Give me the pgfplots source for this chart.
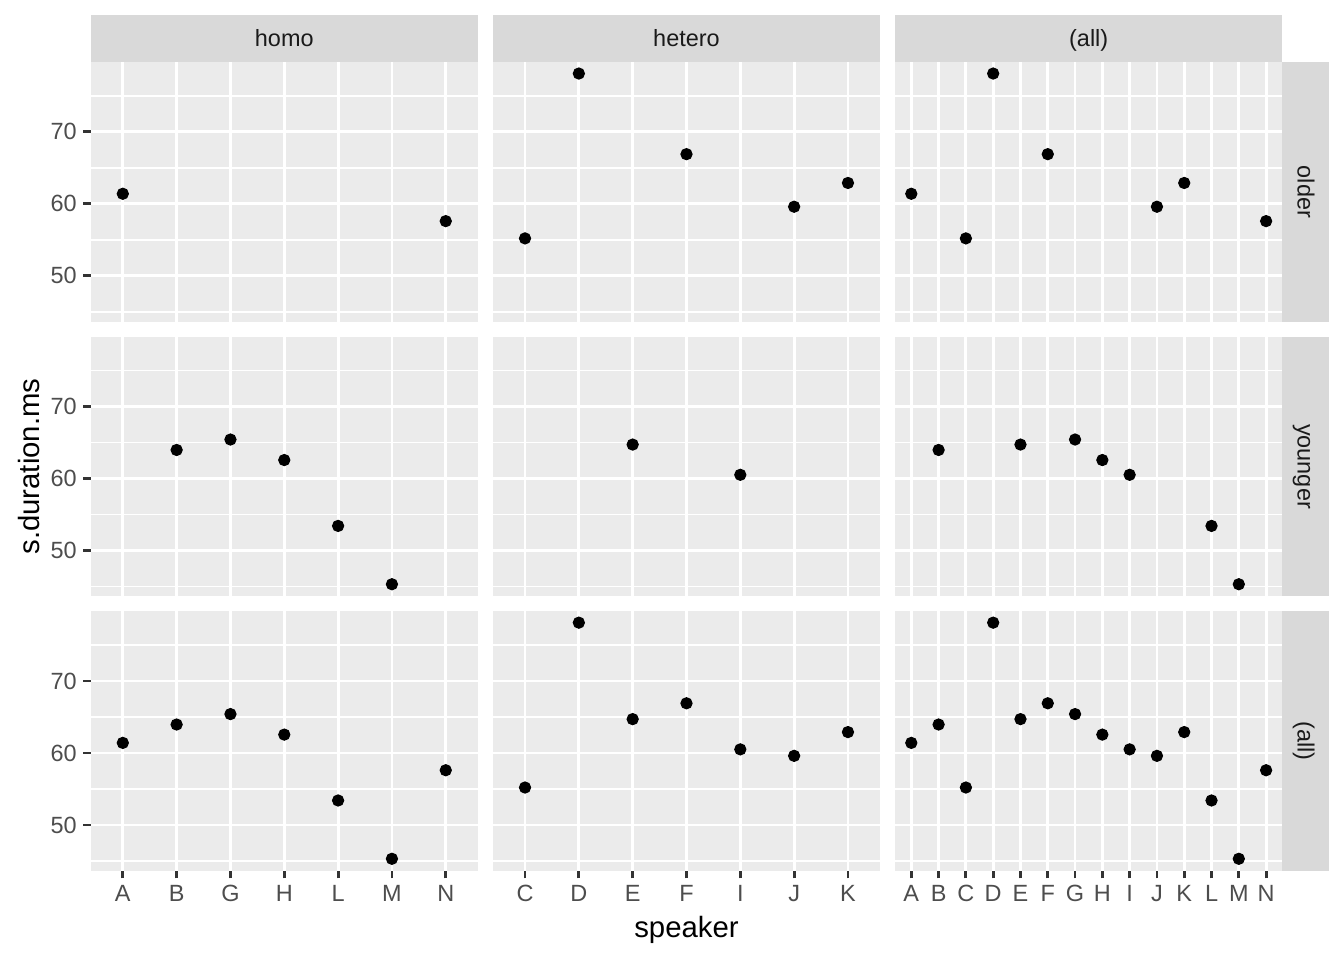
\documentclass[border=0pt]{standalone}
\usepackage{fontspec}
\setmainfont{Liberation Sans}
\usepackage{pgfplots}
\pgfplotsset{compat=1.18}
\definecolor{panelbg}{HTML}{EBEBEB}
\definecolor{stripbg}{HTML}{D9D9D9}
\definecolor{striptext}{HTML}{1A1A1A}
\definecolor{ticktext}{HTML}{4D4D4D}
\definecolor{tickline}{HTML}{333333}
\newcommand{\tsize}{\fontsize{8.8}{10}\selectfont}
\pgfplotsset{
  facet/.style={
    scale only axis, width=145.33pt, height=97.46pt, anchor=north west,
    ymin=43.6, ymax=79.7,
    ytick={50,60,70}, minor ytick={45,55,65,75},
    axis background/.style={fill=panelbg},
    axis line style={draw=none},
    grid=both,
    major grid style={white, line width=1.07pt},
    minor grid style={white, line width=0.53pt},
    tick align=outside, tickpos=left,
    major tick length=2.75pt, minor tick length=0pt,
    xtick style={tickline, line width=1.07pt},
    ytick style={tickline, line width=1.07pt},
    tick label style={font=\tsize, text=ticktext},
    xticklabel style={inner sep=0pt, text height=6.3pt, text depth=0pt, yshift=-2.2pt},
    yticklabel style={inner sep=0pt, xshift=-2.2pt},
    /pgf/number format/assume math mode=true,
    clip=false,
  },
  seven/.style={xmin=-0.6, xmax=6.6, xtick={0,...,6}},
  fourteen/.style={xmin=-0.6, xmax=13.6, xtick={0,...,13}},
  nox/.style={xticklabels={}, xtick style={draw=none}},
  noy/.style={yticklabels={}, ytick style={draw=none}},
  pts/.style={only marks, mark=*, mark size=2.1pt, black},
}
\begin{document}
\begin{tikzpicture}
\useasboundingbox (0pt,0pt) rectangle (504pt,-360pt);
% top strips
\fill[stripbg] (33.94pt,-5.65pt) rectangle (179.27pt,-23.25pt);
\fill[stripbg] (184.77pt,-5.65pt) rectangle (330.1pt,-23.25pt);
\fill[stripbg] (335.6pt,-5.65pt) rectangle (480.93pt,-23.25pt);
\node[font=\tsize, text=striptext, anchor=base, inner sep=0pt] at (106.6pt,-17.4pt) {homo};
\node[font=\tsize, text=striptext, anchor=base, inner sep=0pt] at (257.44pt,-17.4pt) {hetero};
\node[font=\tsize, text=striptext, anchor=base, inner sep=0pt] at (408.27pt,-17.4pt) {(all)};
% right strips
\fill[stripbg] (480.93pt,-23.25pt) rectangle (498.4pt,-120.71pt);
\fill[stripbg] (480.93pt,-126.21pt) rectangle (498.4pt,-223.67pt);
\fill[stripbg] (480.93pt,-229.17pt) rectangle (498.4pt,-326.63pt);
\node[font=\tsize, text=striptext, rotate=-90, anchor=base, inner sep=0pt] at (486.6pt,-71.98pt) {older};
\node[font=\tsize, text=striptext, rotate=-90, anchor=base, inner sep=0pt] at (486.6pt,-174.94pt) {younger};
\node[font=\tsize, text=striptext, rotate=-90, anchor=base, inner sep=0pt] at (486.6pt,-277.9pt) {(all)};
% row 1: older
\begin{axis}[facet, seven, nox, at={(33.94pt,-23.25pt)}]
\addplot[pts] coordinates {(0,61.4) (6,57.6)};
\end{axis}
\begin{axis}[facet, seven, nox, noy, at={(184.77pt,-23.25pt)}]
\addplot[pts] coordinates {(0,55.2) (1,78.1) (3,66.9) (5,59.6) (6,62.9)};
\end{axis}
\begin{axis}[facet, fourteen, nox, noy, at={(335.6pt,-23.25pt)}]
\addplot[pts] coordinates {(0,61.4) (2,55.2) (3,78.1) (5,66.9) (9,59.6) (10,62.9) (13,57.6)};
\end{axis}
% row 2: younger
\begin{axis}[facet, seven, nox, at={(33.94pt,-126.21pt)}]
\addplot[pts] coordinates {(1,63.95) (2,65.4) (3,62.55) (4,53.4) (5,45.3)};
\end{axis}
\begin{axis}[facet, seven, nox, noy, at={(184.77pt,-126.21pt)}]
\addplot[pts] coordinates {(2,64.7) (4,60.5)};
\end{axis}
\begin{axis}[facet, fourteen, nox, noy, at={(335.6pt,-126.21pt)}]
\addplot[pts] coordinates {(1,63.95) (4,64.7) (6,65.4) (7,62.55) (8,60.5) (11,53.4) (12,45.3)};
\end{axis}
% row 3: all
\begin{axis}[facet, seven, xticklabels={A,B,G,H,L,M,N}, at={(33.94pt,-229.17pt)}]
\addplot[pts] coordinates {(0,61.4) (1,63.95) (2,65.4) (3,62.55) (4,53.4) (5,45.3) (6,57.6)};
\end{axis}
\begin{axis}[facet, seven, noy, xticklabels={C,D,E,F,I,J,K}, at={(184.77pt,-229.17pt)}]
\addplot[pts] coordinates {(0,55.2) (1,78.1) (2,64.7) (3,66.9) (4,60.5) (5,59.6) (6,62.9)};
\end{axis}
\begin{axis}[facet, fourteen, noy, xticklabels={A,B,C,D,E,F,G,H,I,J,K,L,M,N}, at={(335.6pt,-229.17pt)}]
\addplot[pts] coordinates {(0,61.4) (1,63.95) (2,55.2) (3,78.1) (4,64.7) (5,66.9) (6,65.4) (7,62.55) (8,60.5) (9,59.6) (10,62.9) (11,53.4) (12,45.3) (13,57.6)};
\end{axis}
% axis titles
\node[font=\fontsize{11}{13}\selectfont, anchor=base] at (257.44pt,-351.5pt) {speaker};
\node[font=\fontsize{11}{13}\selectfont, anchor=base, rotate=90] at (15pt,-174.94pt) {s.duration.ms};
\end{tikzpicture}
\end{document}
